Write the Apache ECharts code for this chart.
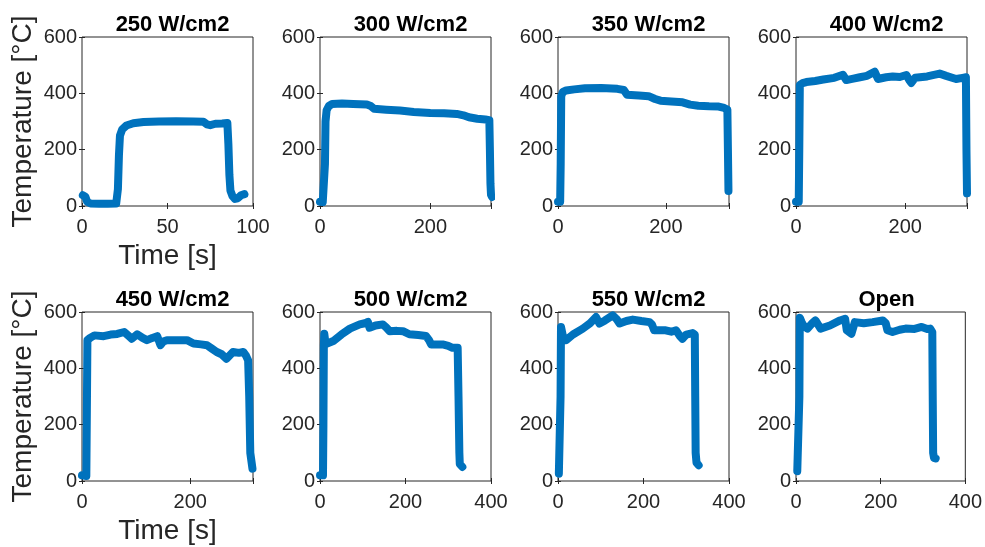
<!DOCTYPE html>
<html>
<head>
<meta charset="utf-8">
<script src="https://cdn.jsdelivr.net/npm/echarts@6/dist/echarts.min.js"></script>
<style>
  html, body { margin: 0; padding: 0; background: #ffffff; }
  #chart { width: 985px; height: 547px; }
</style>
</head>
<body>
<div id="chart"></div>
<script>
// Panel titles (heat flux setting per run)
const panelTitles = ['250 W/cm2', '300 W/cm2', '350 W/cm2', '400 W/cm2',
                     '450 W/cm2', '500 W/cm2', '550 W/cm2', 'Open'];

// Time-axis extent and tick step per panel
const timeMax = [100, 310, 317, 313, 316, 400, 400, 400];
const timeStep = [50, 200, 200, 200, 200, 200, 200, 200];

// Temperature axis ticks (shared)
const tempTicks = [0, 200, 400, 600];

// Temperature traces: [time s, temperature °C]
const run250 = [[0.5,38],[2,33],[3,15],[5,9],[10,8],[15,8],[20,9],[21,60],[21.6,180],[22.2,250],
  [23.5,272],[26,286],[30,294],[36,298],[45,300],[55,301],[65,300],[71,299],[73,290],[75,287],
  [78,292],[82,293],[85,295],[85.6,220],[86.2,110],[86.8,55],[88,35],[89.5,25],[91,27],[93,38],[95,42]];

const run300 = [[0,15],[5,14],[8,15],[9,150],[10,300],[12,340],[16,355],[22,362],[40,364],[60,362],
  [85,360],[92,355],[98,345],[120,342],[145,339],[170,334],[200,330],[225,329],[248,327],[260,322],
  [270,315],[285,310],[300,307],[307,305],[308,200],[309,80],[310,40],[312,32]];

const run350 = [[0,15],[4,15],[5,150],[6,390],[9,405],[15,410],[30,414],[50,418],[80,419],[110,416],
  [122,412],[128,395],[150,392],[168,390],[180,380],[190,374],[210,371],[231,368],[245,360],[260,356],
  [280,354],[298,353],[308,348],[314,342],[315,200],[316,53]];

const run400 = [[0,15],[5,15],[6,200],[7,430],[12,436],[19,440],[35,444],[50,449],[70,455],[86,466],
  [92,447],[105,452],[117,457],[130,462],[144,477],[150,451],[165,457],[177,460],[190,458],[202,465],
  [208,445],[211,437],[218,455],[240,460],[263,470],[275,462],[293,451],[305,455],[311,457],[312,200],[313,45]];

const run450 = [[0,20],[8,18],[9,250],[10,500],[15,508],[23,517],[40,514],[53,520],[65,522],[78,529],
  [88,512],[92,505],[102,521],[112,508],[120,500],[130,508],[139,514],[145,482],[150,495],[157,500],
  [175,500],[194,500],[206,488],[220,485],[231,482],[240,470],[249,458],[258,450],[267,434],[275,450],
  [279,458],[290,455],[298,458],[303,445],[307,428],[309,300],[311,100],[315,44]];

const run500 = [[0,20],[7,20],[8,200],[9,480],[10,523],[12,500],[15,487],[31,497],[50,520],[70,541],
  [93,556],[105,560],[112,565],[116,544],[130,552],[147,556],[155,545],[163,532],[180,533],[194,532],
  [209,521],[230,518],[248,515],[255,500],[260,485],[287,485],[300,480],[310,473],[322,473],[324,300],
  [326,100],[327,60],[333,50]];

const run550 = [[2,26],[5,25],[6,300],[7,547],[10,540],[12,511],[19,500],[35,520],[58,541],[75,560],
  [89,582],[97,559],[110,570],[128,588],[137,575],[144,559],[160,568],[175,573],[195,568],[214,564],
  [220,555],[225,535],[240,535],[252,535],[265,530],[276,535],[285,515],[291,505],[300,520],[315,525],
  [320,520],[321,300],[322,100],[324,65],[329,56]];

const runOpen = [[3,35],[6,32],[8,300],[9,580],[13,565],[17,553],[27,541],[38,560],[46,570],[58,541],
  [80,552],[104,570],[116,576],[120,535],[131,523],[139,564],[160,560],[181,564],[205,570],[212,560],
  [216,535],[228,529],[245,537],[259,541],[280,540],[297,547],[310,540],[317,541],[322,529],[323,300],
  [324,100],[326,82],[330,80]];

const runs = [run250, run300, run350, run400, run450, run500, run550, runOpen];

// Panel geometry
const FONT = '"Liberation Sans", Arial, Helvetica, sans-serif';
const TXT = '#262626';
const colLeft = [82, 320, 558, 796];
const rowTop = [37, 312];
const panelW = 171;
const panelH = 169;

const grids = [], xAxes = [], yAxes = [], series = [], titles = [];

runs.forEach((run, i) => {
  const row = Math.floor(i / 4), col = i % 4;
  const left = colLeft[col], top = rowTop[row];
  grids.push({
    left: left, top: top, width: panelW, height: panelH,
    show: true, borderColor: TXT, borderWidth: 1, backgroundColor: '#ffffff'
  });
  const step = timeStep[i];
  const tickCommon = { show: true, inside: true, length: 3, lineStyle: { color: TXT, width: 1 } };
  // bottom time axis with labels
  xAxes.push({
    gridIndex: i, type: 'value', position: 'bottom', min: 0, max: timeMax[i], interval: step,
    axisLine: { show: false }, splitLine: { show: false }, axisTick: tickCommon,
    axisLabel: {
      color: TXT, fontSize: 20, fontFamily: FONT, margin: 11,
      formatter: v => (v % step === 0 ? String(v) : '')
    },
    name: col === 0 ? 'Time [s]' : '', nameLocation: 'middle', nameGap: 36,
    nameTextStyle: { color: TXT, fontSize: 28, fontFamily: FONT }
  });
  // mirrored ticks along the top edge
  xAxes.push({
    gridIndex: i, type: 'value', position: 'top', min: 0, max: timeMax[i], interval: step,
    axisLine: { show: false }, splitLine: { show: false }, axisTick: tickCommon,
    axisLabel: { show: false }
  });
  yAxes.push({
    gridIndex: i, type: 'value', position: 'left', min: tempTicks[0],
    max: tempTicks[tempTicks.length - 1], interval: tempTicks[1] - tempTicks[0],
    axisLine: { show: false }, splitLine: { show: false }, axisTick: tickCommon,
    axisLabel: { color: TXT, fontSize: 20, fontFamily: FONT, margin: 5 },
    name: col === 0 ? 'Temperature [°C]' : '', nameLocation: 'middle', nameGap: 45,
    nameTextStyle: { color: TXT, fontSize: 28, fontFamily: FONT }
  });
  // mirrored ticks along the right edge
  yAxes.push({
    gridIndex: i, type: 'value', position: 'right', min: tempTicks[0],
    max: tempTicks[tempTicks.length - 1], interval: tempTicks[1] - tempTicks[0],
    axisLine: { show: false }, splitLine: { show: false }, axisTick: tickCommon,
    axisLabel: { show: false }
  });
  series.push({
    type: 'line', xAxisIndex: 2 * i, yAxisIndex: 2 * i, data: run,
    showSymbol: false, clip: false, silent: true,
    lineStyle: { color: '#0072BD', width: 8, cap: 'round', join: 'round' }
  });
  titles.push({
    text: panelTitles[i], left: left + panelW / 2, top: top - 28, textAlign: 'center',
    textStyle: { color: '#000000', fontSize: 22, fontWeight: 'bold', fontFamily: FONT }
  });
});

const chart = echarts.init(document.getElementById('chart'), null, { renderer: 'canvas' });
chart.setOption({
  animation: false,
  backgroundColor: '#ffffff',
  title: titles,
  grid: grids,
  xAxis: xAxes,
  yAxis: yAxes,
  series: series
});
</script>
</body>
</html>
